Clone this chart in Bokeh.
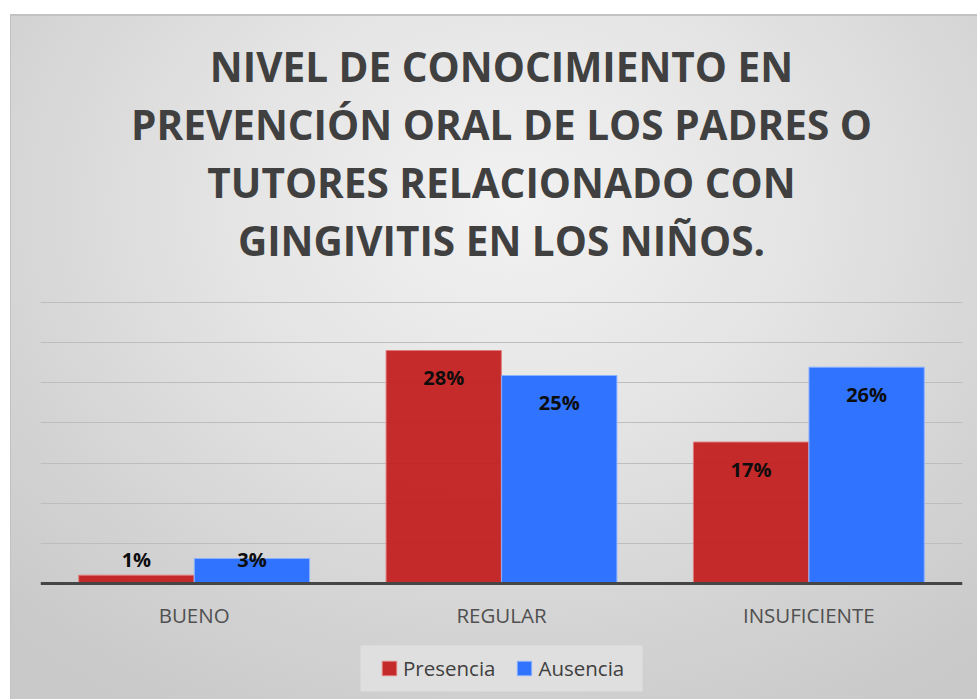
from bokeh.plotting import figure
from bokeh.models import FixedTicker, Legend, ColumnDataSource, Grid, Span, Range1d
from bokeh.transform import dodge
from bokeh.core.properties import value
from bokeh.embed import file_html
from bokeh.resources import INLINE
import numpy as np

# ---- data ----
categories = ["BUENO", "REGULAR", "INSUFICIENTE"]
presencia = [1, 28, 17]
ausencia = [3, 25, 26]
series_names = ["Presencia", "Ausencia"]
grid_ticks = [4.83, 9.65, 14.48, 19.3, 24.13, 28.95, 33.78]
title_lines = [
    "NIVEL DE CONOCIMIENTO EN",
    "PREVENCIÓN ORAL DE LOS PADRES O",
    "TUTORES RELACIONADO CON",
    "GINGIVITIS EN LOS NIÑOS.",
]

# ---- layout constants (pixels) ----
W, H = 967, 685
LEFT_PAGE, TOP_PAGE, BASE_PAGE = 10, 14, 583   # figure left/top, bar baseline
FRAME_LEFT_PAGE = 40
CAT_PX = 922 / len(categories)                 # pixels per category band
PX = 8.32                                      # pixels per percentage point
FIG_BOTTOM_PAGE = TOP_PAGE + H

def up(px_from_base):
    return px_from_base / PX

def xcat(page_x):
    return (page_x - FRAME_LEFT_PAGE) / CAT_PX

RED = "#c21f1f"
BLUE = "#2f73ff"
bg = ("radial-gradient(ellipse 75% 85% at 52% 28%, #f2f2f2 0%, #e4e4e4 40%, "
      "#d3d3d3 75%, #c9c9c9 100%)")

p = figure(
    x_range=categories,
    y_range=Range1d(up(BASE_PAGE - FIG_BOTTOM_PAGE), up(BASE_PAGE - TOP_PAGE)),
    width=W, height=H,
    output_backend="svg", toolbar_location=None,
    title=None, x_axis_location=None, y_axis_location=None,
    min_border_left=FRAME_LEFT_PAGE - LEFT_PAGE, min_border_right=15,
    min_border_top=0, min_border_bottom=0,
    margin=(TOP_PAGE, 0, 0, LEFT_PAGE),
    styles={"background": bg, "box-shadow": "inset 1px 2px 0 #c2c2c2"},
)
p.border_fill_alpha = 0
p.background_fill_alpha = 0
p.outline_line_color = None
p.xgrid.visible = False
p.ygrid.visible = False

grid = Grid(dimension=1, ticker=FixedTicker(ticks=grid_ticks),
            grid_line_color="#bdbdbd", grid_line_width=1.2)
p.add_layout(grid, "center")

# ---- title (4 centred lines) ----
title_src = ColumnDataSource(dict(
    x=["REGULAR"] * len(title_lines),
    y=[up(BASE_PAGE - (65.5 + 58 * i)) for i in range(len(title_lines))],
    t=title_lines,
))
p.text(x="x", y="y", text="t", source=title_src, text_align="center",
       text_baseline="middle", text_font=value("Open Sans"),
       text_font_style="bold", text_font_size="40.5px", text_color="#404040")

# ---- bars ----
pres = np.array(presencia, dtype=float)
aus = np.array(ausencia, dtype=float)
src = ColumnDataSource(dict(
    cat=categories, pres=pres, aus=aus,
    pres_lbl=[f"{v}%" for v in presencia],
    aus_lbl=[f"{v}%" for v in ausencia],
    pres_y=np.maximum(pres - up(27), up(24)),
    aus_y=np.maximum(aus - up(27), up(24)),
    cat_y=[up(BASE_PAGE - 614.5)] * len(categories),
))

r1 = p.vbar(x=dodge("cat", -0.188, range=p.x_range), top="pres", width=0.375,
            source=src, fill_color=RED, fill_alpha=0.94,
            line_color="#e07a7a", line_width=1)
r2 = p.vbar(x=dodge("cat", 0.188, range=p.x_range), top="aus", width=0.375,
            source=src, fill_color=BLUE, line_color="#8ab2ff", line_width=1)

for off, ycol, tcol in [(-0.188, "pres_y", "pres_lbl"), (0.188, "aus_y", "aus_lbl")]:
    p.text(x=dodge("cat", off, range=p.x_range), y=ycol, text=tcol,
           source=src, text_align="center", text_baseline="middle",
           text_font=value("Open Sans"), text_font_style="bold",
           text_font_size="20px", text_color="#0d0d0d")

# baseline (category axis line) and category labels
p.add_layout(Span(location=0, dimension="width", line_color="#454545",
                  line_width=3))
p.text(x="cat", y="cat_y", text="cat", source=src, text_align="center",
       text_baseline="middle", text_font=value("Open Sans"),
       text_font_size="20.5px", text_color="#505050")

# ---- legend (background panel + items) ----
p.quad(left=xcat(360), right=xcat(642), bottom=up(BASE_PAGE - 691),
       top=up(BASE_PAGE - 645), fill_color="#dfdfdf", line_color=None)

legend = Legend(
    items=[(series_names[0], [r1]), (series_names[1], [r2])],
    orientation="horizontal", location=(340, 17),
    background_fill_alpha=0,
    border_line_color=None, padding=0, margin=0, spacing=20,
    label_text_font="Open Sans", label_text_font_size="20.5px",
    label_text_color="#404040", glyph_width=18, glyph_height=18,
    label_standoff=5,
)
p.add_layout(legend, "center")

open("out.html", "w").write(file_html(p, INLINE))
